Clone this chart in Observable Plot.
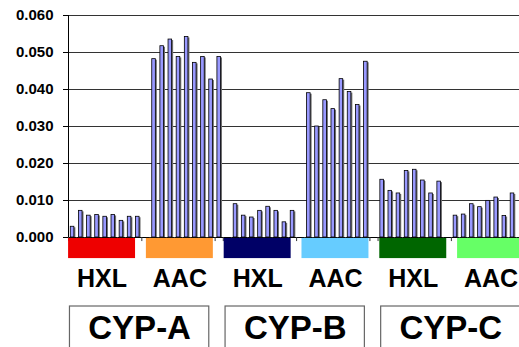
<!DOCTYPE html>
<html><head><meta charset="utf-8">
<script src="https://cdn.jsdelivr.net/npm/d3@7"></script>
<script src="https://cdn.jsdelivr.net/npm/@observablehq/plot@0.6"></script>
<style>html,body{margin:0;padding:0;background:#fff;overflow:hidden}</style>
</head><body><div id="chart"></div>
<script>
// ---- data ----
const enzymes = ["CYP-A", "CYP-B", "CYP-C"];
const substrates = ["HXL", "AAC"];
const yTicks = [0, 0.01, 0.02, 0.03, 0.04, 0.05, 0.06];
const cypA_HXL = [0.0029, 0.0072, 0.0059, 0.0061, 0.0056, 0.0061, 0.0045, 0.0056, 0.0056];
const cypA_AAC = [0.0482, 0.0517, 0.0535, 0.0488, 0.0542, 0.0472, 0.0488, 0.0427, 0.0488];
const cypB_HXL = [0.0090, 0.0059, 0.0054, 0.0072, 0.0083, 0.0072, 0.0041, 0.0072];
const cypB_AAC = [0.0390, 0.0300, 0.0371, 0.0347, 0.0428, 0.0393, 0.0358, 0.0475];
const cypC_HXL = [0.0156, 0.0126, 0.0119, 0.0180, 0.0183, 0.0154, 0.0119, 0.0151];
const cypC_AAC = [0.0059, 0.0062, 0.0090, 0.0082, 0.0099, 0.0108, 0.0058, 0.0119];
const bandColors = ["#ee0000", "#ff9933", "#000066", "#66ccff", "#006600", "#66ff66"];

// ---- build tables ----
const groupValues = [cypA_HXL, cypA_AAC, cypB_HXL, cypB_AAC, cypC_HXL, cypC_AAC];
const groups = groupValues.map((values, i) => ({
  enzyme: enzymes[Math.floor(i / 2)], substrate: substrates[i % 2], values
}));
let slot = 0;
const bars = [];
groups.forEach((g, gi) => {
  g.first = slot;
  g.values.forEach(v => bars.push({slot: slot++, value: v, group: gi}));
  g.last = slot - 1;
  slot++; // empty category between groups
});
const boundaries = d3.range(-0.5, 55, 1);

// layout constants (category units)
const bandPitch = 9.55, bandWidth = 8.22, bandOffset = -0.49;
const bands = groups.map((g, i) => ({
  x1: bandOffset + i * bandPitch,
  x2: bandOffset + i * bandPitch + bandWidth,
  color: bandColors[i],
  label: g.substrate
}));
const boxes = enzymes.map((e, k) => ({
  x1: bands[2 * k].x1 + 0.17,
  x2: bands[2 * k + 1].x2 - 0.5,
  label: e
}));
const hw = 0.22;
const font = "'Liberation Sans', Arial, sans-serif";

const chart = Plot.plot({
  width: 519,
  height: 347,
  marginLeft: 68,
  marginRight: 0,
  marginTop: 15,
  marginBottom: 110,
  style: {fontFamily: font, fontSize: "15px", fontWeight: "bold", color: "#000", background: "#fff", overflow: "visible"},
  x: {domain: [-0.5, 54.86], axis: null},
  y: {domain: [0, 0.06], axis: "left", ticks: yTicks, tickFormat: d3.format(".3f"), tickSize: 5, tickPadding: 10, label: null},
  marks: [
    Plot.ruleY(yTicks.slice(1), {stroke: "#333", strokeWidth: 1}),
    Plot.rect(bars, {x1: d => d.slot - hw, x2: d => d.slot + hw, y1: 0, y2: "value", fill: "#6e6e6e", dx: 1.5, dy: 1}),
    Plot.rect(bars, {x1: d => d.slot - hw, x2: d => d.slot + hw, y1: 0, y2: "value", fill: "#9999ff", stroke: "#000", strokeWidth: 0.8}),
    Plot.ruleY([0], {stroke: "#000", strokeWidth: 1}),
    Plot.ruleX([-0.5], {y1: 0, y2: 0.06, stroke: "#000", strokeWidth: 1}),
    Plot.ruleX(boundaries, {y1: 0, y2: -0.0011, stroke: "#333", strokeWidth: 1}),
    Plot.rect(bands, {x1: "x1", x2: "x2", y1: -0.00025, y2: -0.0057, fill: "color"}),
    Plot.text(bands, {x: d => (d.x1 + d.x2) / 2, y: -0.0113, text: "label", fontSize: 25, fontWeight: "bold", fill: "#000", textAnchor: "middle"}),
    Plot.rect(boxes, {x1: "x1", x2: "x2", y1: -0.01865, y2: -0.045, fill: "none", stroke: "#666", strokeWidth: 1.2}),
    Plot.text(boxes, {x: d => (d.x1 + d.x2) / 2, y: -0.0246, text: "label", fontSize: 33, fontWeight: "bold", fill: "#000", textAnchor: "middle"})
  ]
});
document.getElementById("chart").appendChild(chart);
</script>
</body></html>
